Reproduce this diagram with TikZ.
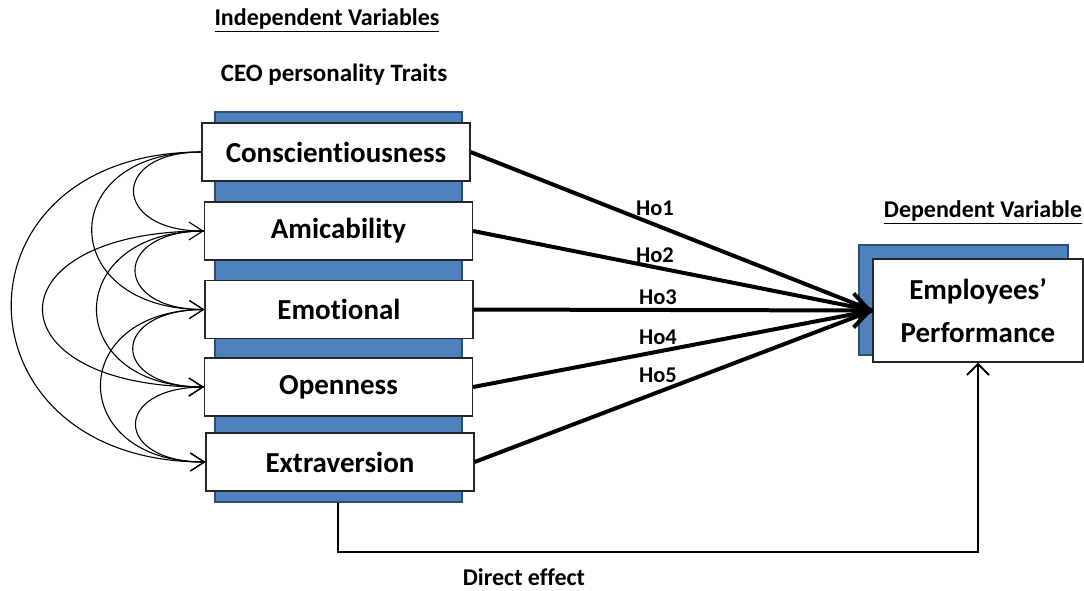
\documentclass[tikz,border=0pt]{standalone}
\usepackage{fontspec}
\setmainfont{Carlito}[Ligatures=NoCommon]
\usetikzlibrary{arrows.meta}
\definecolor{barblue}{HTML}{4F81BD}
\definecolor{bardark}{HTML}{2C4D75}
\begin{document}
\begin{tikzpicture}[x=1pt,y=-1pt,
  bar/.style={fill=barblue, draw=bardark, line width=1.5pt, inner sep=0pt},
  trait/.style={draw=black!85, fill=white, line width=1.2pt, minimum width=268pt, minimum height=58pt, inner sep=0pt, font=\fontsize{29}{31}\selectfont\bfseries},
  hyp/.style={line width=4pt},
  corr/.style={line width=1.1pt, -{Straight Barb[length=14pt,width=18pt]}},
  lbl/.style={font=\fontsize{22.5}{24}\selectfont\bfseries, inner sep=0pt},
  head/.style={font=\fontsize{24}{26}\selectfont\bfseries, inner sep=0pt}]
\useasboundingbox (0,0) rectangle (1084,590);

% headers
\node[head] (hind) at (327,20) {\underline{Independent Variables}};
\node[head, font=\fontsize{25}{27}\selectfont\bfseries] (hceo) at (334,75) {CEO personality Traits};
\node[head] (hdep) at (983,212) {\underline{Dependent Variable}};

% direct effect corner coordinate
\coordinate (dx) at (338,552);

% blue bars
\node[bar, minimum width=247pt, minimum height=390pt] (bar) at (338.5,307) {};
\node[bar, minimum width=209pt, minimum height=110pt] (depbar) at (963.5,300) {};

% trait boxes
\node[trait] (cons) at (336,152) {Conscientiousness};
\node[trait] (amic) at (338.5,231) {Amicability};
\node[trait] (emot) at (339,309.5) {Emotional};
\node[trait] (open) at (338.5,387) {Openness};
\node[trait] (extr) at (340,462) {Extraversion};

% dependent box
\node[draw=black!85, fill=white, line width=1.2pt, minimum width=210pt, minimum height=103pt, inner sep=0pt, align=center, font=\fontsize{29}{43}\selectfont\bfseries] (dep) at (978,310.5) {Employees’\\Performance};

% hypotheses
\draw[hyp] (cons.east) -- (dep.west);
\draw[hyp] (amic.east) -- (dep.west);
\draw[hyp, -{Straight Barb[length=16pt,width=34pt]}] (emot.east) -- (dep.west);
\draw[hyp] (open.east) -- (dep.west);
\draw[hyp] (extr.east) -- (dep.west);

\node[lbl] (h1) at (655,208) {Ho1};
\node[lbl] (h2) at (655,255) {Ho2};
\node[lbl] (h3) at (658,297) {Ho3};
\node[lbl] (h4) at (658,337) {Ho4};
\node[lbl] (h5) at (658,375) {Ho5};

% correlations
\draw[corr] (cons.west) .. controls +(-92,0) and +(-92,0) .. (amic.west);
\draw[corr] (cons.west) .. controls +(-148,0) and +(-148,0) .. (emot.west);
\draw[corr] (cons.west) .. controls +(-256,0) and +(-256,0) .. (extr.west);
\draw[corr] (amic.west) .. controls +(-92,0) and +(-92,0) .. (emot.west);
\draw[corr] (amic.west) .. controls +(-215,0) and +(-215,0) .. (open.west);
\draw[corr] (amic.west) .. controls +(-143,0) and +(-143,0) .. (open.west);
\draw[corr] (emot.west) .. controls +(-95,0) and +(-95,0) .. (open.west);
\draw[corr] (emot.west) .. controls +(-139,0) and +(-139,0) .. (extr.west);
\draw[corr] (open.west) .. controls +(-92,0) and +(-92,0) .. (extr.west);

% direct effect
\draw[line width=2pt, -{Straight Barb[length=11pt,width=22pt]}] (bar.south -| dx) -- (dx) -| (dep.south);
\node[lbl, font=\fontsize{24}{26}\selectfont\bfseries] (direct) at (524,577) {Direct effect};
\end{tikzpicture}
\end{document}
